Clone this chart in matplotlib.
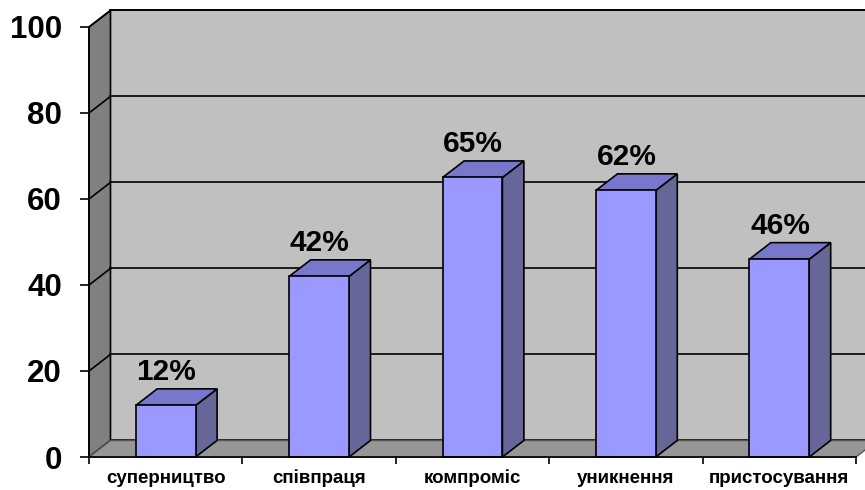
import matplotlib.pyplot as plt
from matplotlib.patches import Polygon, Rectangle

categories = ['суперництво', 'співпраця', 'компроміс', 'уникнення', 'пристосування']
values = [12, 42, 65, 62, 46]
y_ticks = [0, 20, 40, 60, 80, 100]

# depth of the pseudo-3D box, in data units
DX = 0.14
DY = 3.85
BAR_W = 0.39

plt.rcParams['font.family'] = ['Liberation Sans', 'DejaVu Sans']
plt.rcParams['font.weight'] = 'bold'

fig = plt.figure(figsize=(8.65, 4.90), dpi=100)
ax = fig.add_axes([89 / 865, 33 / 490, 767 / 865, 430 / 490])
ax.set_xlim(-0.5, len(categories) - 0.5)
ax.set_ylim(0, 100)
ax.set_facecolor('none')

x0, x1 = -0.5, len(categories) - 0.5
ymax = y_ticks[-1]

# walls and floor
ax.add_patch(Polygon([(x0 + DX, DY), (x1 + DX, DY), (x1 + DX, ymax + DY), (x0 + DX, ymax + DY)],
                     closed=True, fc='#c0c0c0', ec='black', lw=1.2, clip_on=False, zorder=1))
ax.add_patch(Polygon([(x0, 0), (x0 + DX, DY), (x0 + DX, ymax + DY), (x0, ymax)],
                     closed=True, fc='#808080', ec='black', lw=1.2, clip_on=False, zorder=1))
ax.add_patch(Polygon([(x0, 0), (x1, 0), (x1 + DX, DY), (x0 + DX, DY)],
                     closed=True, fc='#969696', ec='#555555', lw=1.0, clip_on=False, zorder=1))

# gridlines on the back wall and the left wall
for v in y_ticks[1:]:
    ax.plot([x0 + DX, x1 + DX], [v + DY, v + DY], color='black', lw=1.2, clip_on=False, zorder=2)
    ax.plot([x0, x0 + DX], [v, v + DY], color='black', lw=1.2, clip_on=False, zorder=2)

# bars: front, top and side faces
for i, v in enumerate(values):
    left, right = i - BAR_W / 2, i + BAR_W / 2
    ax.add_patch(Polygon([(right, 0), (right + DX, DY), (right + DX, v + DY), (right, v)],
                         closed=True, fc='#666699', ec='black', lw=1.2, clip_on=False, zorder=3))
    ax.add_patch(Polygon([(left, v), (right, v), (right + DX, v + DY), (left + DX, v + DY)],
                         closed=True, fc='#7777cc', ec='black', lw=1.2, clip_on=False, zorder=3))
    ax.add_patch(Rectangle((left, 0), BAR_W, v, fc='#9999ff', ec='black', lw=1.2,
                           clip_on=False, zorder=4))
    ax.text(i + 0.005, v + DY + 0.6, f'{v}%', ha='center', va='bottom',
            fontsize=21.5, fontweight='bold', zorder=5)

# axes
for side in ['top', 'right']:
    ax.spines[side].set_visible(False)
for side in ['left', 'bottom']:
    ax.spines[side].set_linewidth(1.2)
    ax.spines[side].set_zorder(6)

ax.set_yticks(y_ticks)
ax.set_yticklabels([str(t) for t in y_ticks], fontsize=22.5, fontweight='bold')
ax.tick_params(axis='y', length=6.5, width=1.2, pad=13)

ax.set_xticks(range(len(categories)))
ax.set_xticklabels(categories, fontsize=13.5, fontweight='bold')
ax.set_xticks([k - 0.5 for k in range(len(categories) + 1)], minor=True)
ax.tick_params(axis='x', which='major', length=0, pad=9)
ax.tick_params(axis='x', which='minor', length=5, width=1.2)

fig.savefig('out.png', dpi=100)
